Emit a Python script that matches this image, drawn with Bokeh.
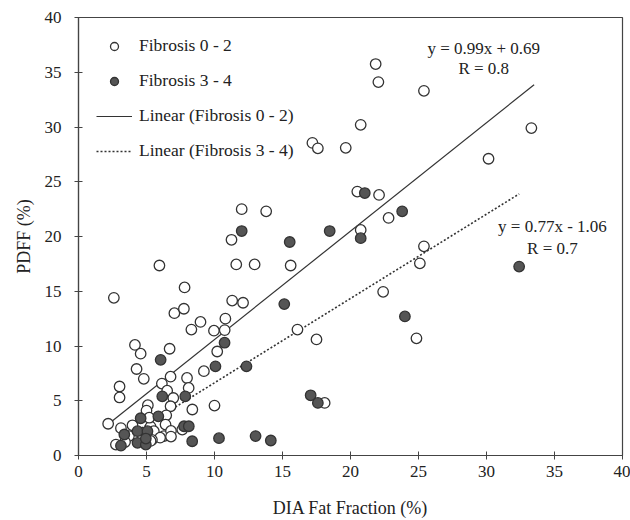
from bokeh.plotting import figure
from bokeh.models import ColumnDataSource, Legend, LegendItem, FixedTicker, Range1d
from bokeh.core.properties import value
from bokeh.embed import file_html
from bokeh.resources import INLINE

# Fibrosis 0 - 2 (open circles)
f02_x = [21.85, 22.05, 25.4, 20.75, 33.3, 19.65, 17.2, 17.6, 30.15, 20.5, 22.1, 22.8,
         20.75, 25.4, 25.1, 22.4, 24.85, 16.1, 17.5, 18.1, 12.0, 13.8, 11.25, 5.95,
         11.6, 12.95, 15.6, 7.8, 11.3, 12.1, 2.6, 7.05, 7.75, 8.3, 8.97, 9.96, 10.8,
         10.75, 4.15, 4.57, 6.7, 10.2, 4.27, 4.8, 9.22, 3.02, 3.02, 6.13, 6.77, 7.98,
         8.1, 6.52, 6.97, 6.77, 5.1, 5.0, 6.45, 8.37, 10.0, 2.18, 3.12, 3.97, 3.71,
         2.75, 3.42, 5.3, 5.54, 6.4, 6.28, 6.0, 5.4, 6.8, 7.63, 5.3, 6.8, 5.2]
f02_y = [35.75, 34.1, 33.3, 30.2, 29.9, 28.1, 28.55, 28.05, 27.1, 24.1, 23.8, 21.7,
         20.6, 19.1, 17.55, 14.95, 10.7, 11.5, 10.6, 4.8, 22.5, 22.3, 19.7, 17.35,
         17.45, 17.45, 17.35, 15.35, 14.15, 13.95, 14.4, 13.0, 13.4, 11.5, 12.2, 11.4, 12.5,
         11.45, 10.1, 9.3, 9.75, 9.5, 7.9, 7.0, 7.7, 6.3, 5.3, 6.57, 7.2, 7.08,
         6.17, 5.92, 5.25, 4.5, 4.6, 4.1, 3.67, 4.2, 4.56, 2.9, 2.5, 2.76, 1.77,
         1.0, 1.23, 2.64, 2.22, 2.82, 1.77, 1.63, 1.43, 2.24, 2.37, 1.33, 1.73, 3.45]

# Fibrosis 3 - 4 (filled circles)
f34_x = [21.05, 23.8, 18.47, 20.75, 12.0, 15.53, 15.13, 10.74, 10.07, 12.35, 6.04,
         32.4, 24.0, 17.07, 17.6, 10.33, 13.02, 14.14, 6.16, 7.85, 4.57, 5.87, 4.34,
         5.07, 3.37, 4.34, 4.95, 4.95, 3.12, 7.76, 8.11, 8.36]
f34_y = [23.97, 22.3, 20.5, 19.85, 20.5, 19.5, 13.83, 10.3, 8.14, 8.14, 8.74,
         17.25, 12.7, 5.5, 4.8, 1.58, 1.77, 1.37, 5.4, 5.4, 3.4, 3.58, 2.22,
         2.22, 1.92, 1.16, 1.0, 1.55, 0.9, 2.67, 2.67, 1.3]

# Linear fits
fit_slopes = [0.99, 0.77]
fit_intercepts = [0.69, -1.06]
fit_x_ranges = [[2.18, 33.5], [3.12, 32.4]]
fit_names = ["Linear (Fibrosis 0 - 2)", "Linear (Fibrosis 3 - 4)"]

# Equation annotations
eq_texts = ["y = 0.99x + 0.69", "R = 0.8", "y = 0.77x - 1.06", "R = 0.7"]
eq_x = [29.8, 29.8, 34.85, 34.85]
eq_y = [37.2, 35.3, 20.9, 18.9]

ticks = [0, 5, 10, 15, 20, 25, 30, 35, 40]

SERIF = "Liberation Serif"
DARK = "#333333"

p = figure(width=630, height=520, output_backend="svg", toolbar_location=None,
           x_range=Range1d(0, 40), y_range=Range1d(0, 40),
           min_border_left=78, min_border_right=8, min_border_top=17, min_border_bottom=64)
p.background_fill_color = "white"
p.border_fill_color = "white"
p.outline_line_color = "#444444"
p.outline_line_width = 1.2
p.xgrid.visible = False
p.ygrid.visible = False

for ax in (p.xaxis[0], p.yaxis[0]):
    ax.ticker = FixedTicker(ticks=ticks)
    ax.minor_tick_line_color = None
    ax.major_tick_in = 4
    ax.major_tick_out = 4
    ax.axis_line_color = "#444444"
    ax.axis_line_width = 1.2
    ax.major_tick_line_color = "#444444"
    ax.major_label_text_font = SERIF
    ax.major_label_text_font_size = "17px"
    ax.major_label_text_color = "#222222"
    ax.axis_label_text_font = SERIF
    ax.axis_label_text_font_size = "18px"
    ax.axis_label_text_font_style = "normal"
    ax.axis_label_text_color = "#222222"

p.xaxis.axis_label = "DIA Fat Fraction (%)"
p.yaxis.axis_label = "PDFF (%)"
p.xaxis.major_label_standoff = 6
p.yaxis.major_label_standoff = 13
p.xaxis.axis_label_standoff = 18
p.yaxis.axis_label_standoff = 8

# fit lines
line_renderers = []
dashes = ["solid", "2 2"]
widths = [1.2, 1.6]
for s, b, xr, d, w in zip(fit_slopes, fit_intercepts, fit_x_ranges, dashes, widths):
    xs = list(xr)
    ys = [s * xv + b for xv in xs]
    r = p.line(xs, ys, line_color=DARK, line_width=w, line_dash=d)
    line_renderers.append(r)

src02 = ColumnDataSource(dict(x=f02_x, y=f02_y))
src34 = ColumnDataSource(dict(x=f34_x, y=f34_y))
r02 = p.scatter("x", "y", source=src02, size=10.5, marker="circle",
                fill_color="white", line_color=DARK, line_width=1.3)
r34 = p.scatter("x", "y", source=src34, size=10.5, marker="circle",
                fill_color="#555555", line_color="#333333", line_width=1.3)

p.text(x=eq_x, y=eq_y, text=eq_texts, text_align="center", text_baseline="middle",
       text_font=value(SERIF), text_font_size=value("17px"), text_color="#222222")

legend = Legend(items=[
    LegendItem(label="Fibrosis 0 - 2", renderers=[r02]),
    LegendItem(label="Fibrosis 3 - 4", renderers=[r34]),
    LegendItem(label=fit_names[0], renderers=[line_renderers[0]]),
    LegendItem(label=fit_names[1], renderers=[line_renderers[1]]),
], location="top_left")
legend.label_text_font = SERIF
legend.label_text_font_size = "17.5px"
legend.label_text_color = "#222222"
legend.glyph_width = 36
legend.glyph_height = 20
legend.label_height = 20
legend.label_standoff = 7
legend.spacing = 14
legend.margin = 18
legend.padding = 10
legend.border_line_color = None
legend.background_fill_alpha = 0
p.add_layout(legend)

open("out.html", "w").write(file_html(p, INLINE))
